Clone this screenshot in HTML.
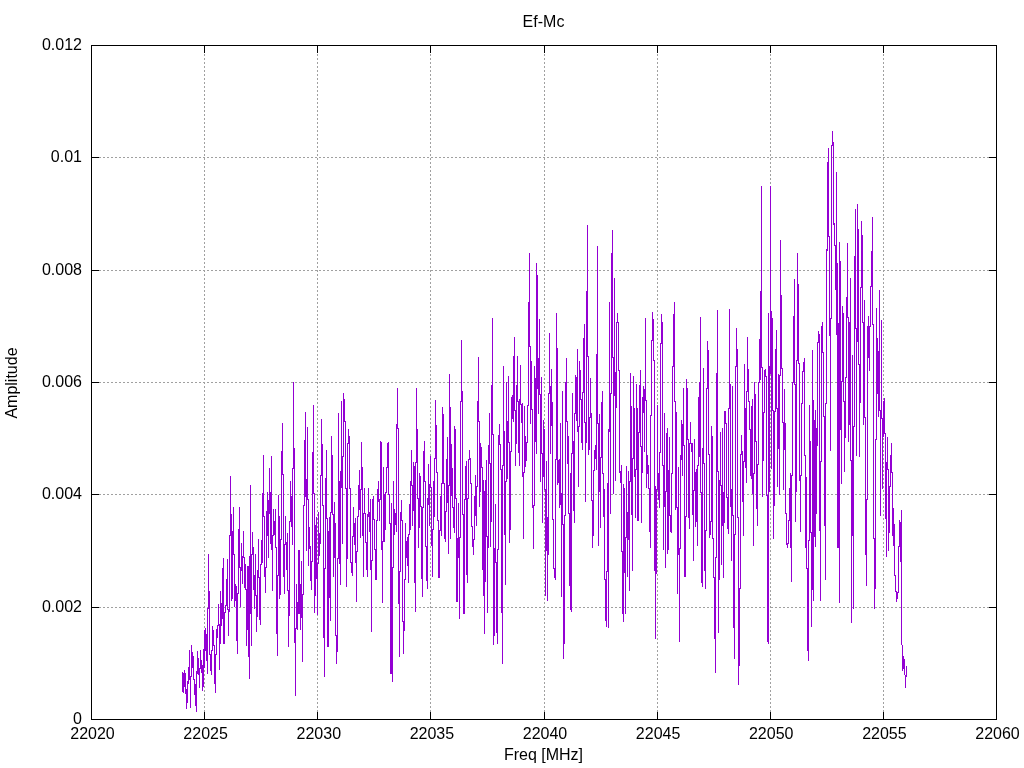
<!DOCTYPE html>
<html><head><meta charset="utf-8"><title>Ef-Mc</title>
<style>
html,body{margin:0;padding:0;background:#fff;}
body{width:1024px;height:768px;overflow:hidden;font-family:"Liberation Sans",sans-serif;}
svg{display:block;will-change:transform;}
text{font-family:"Liberation Sans",sans-serif;font-size:16px;fill:#000;}
</style></head><body>
<svg width="1024" height="768" viewBox="0 0 1024 768">
<rect x="0" y="0" width="1024" height="768" fill="#ffffff"/>

<g stroke="#a0a0a0" stroke-width="1" stroke-dasharray="2,2" fill="none">
<path d="M204.5 720V46"/>
<path d="M317.5 720V46"/>
<path d="M430.5 720V46"/>
<path d="M544.5 720V46"/>
<path d="M657.5 720V46"/>
<path d="M770.5 720V46"/>
<path d="M883.5 720V46"/>
<path d="M91 607.5H996"/>
<path d="M91 494.5H996"/>
<path d="M91 382.5H996"/>
<path d="M91 270.5H996"/>
<path d="M91 157.5H996"/>
</g>
<path d="M182.5 672V692M183.5 673V693M184.5 670V687M185.5 673V694M186.5 689V709M187.5 681V703M188.5 667V684M189.5 650V680M190.5 676V708M191.5 645V677M192.5 652V668M193.5 656V680M194.5 679V695M195.5 684V706M196.5 671V712M197.5 651V674M198.5 658V675M199.5 668V688M200.5 650V669M201.5 660V673M202.5 665V691M203.5 649V687M204.5 630V668M205.5 628V651M206.5 634V661M207.5 608V674M208.5 554V609M209.5 591V655M210.5 654V671M211.5 650V675M212.5 626V651M213.5 630V646M214.5 645V684M215.5 654V693M216.5 629V655M217.5 625V638M218.5 604V626M219.5 624V670M220.5 591V644M221.5 603V626M222.5 568V619M223.5 558V644M224.5 612V644M225.5 605V613M226.5 579V606M227.5 559V610M228.5 609V636M229.5 535V612M230.5 476V536M231.5 514V601M232.5 531V599M233.5 507V555M234.5 554V607M235.5 584V601M236.5 586V641M237.5 593V654M238.5 529V594M239.5 507V568M240.5 567V607M241.5 543V571M242.5 556V584M243.5 531V558M244.5 557V588M245.5 564V590M246.5 589V646M247.5 566V630M248.5 566V657M249.5 556V679M250.5 485V614M251.5 554V646M252.5 532V555M253.5 547V590M254.5 575V609M255.5 554V596M256.5 595V632M257.5 570V617M258.5 539V578M259.5 577V620M260.5 564V625M261.5 540V565M262.5 493V563M263.5 455V517M264.5 516V577M265.5 567V593M266.5 511V568M267.5 492V536M268.5 500V558M269.5 468V514M270.5 492V544M271.5 456V550M272.5 535V591M273.5 509V536M274.5 521V535M275.5 509V548M276.5 547V634M277.5 575V656M278.5 495V576M279.5 516V599M280.5 539V595M281.5 451V540M282.5 423V475M283.5 474V577M284.5 544V594M285.5 516V545M286.5 542V570M287.5 533V591M288.5 590V647M289.5 521V616M290.5 481V522M291.5 496V527M292.5 468V545M293.5 382V469M294.5 448V643M295.5 628V696M296.5 584V629M297.5 602V630M298.5 550V614M299.5 550V614M300.5 584V630M301.5 561V618M302.5 594V662M303.5 505V595M304.5 440V506M305.5 412V497M306.5 479V551M307.5 427V500M308.5 499V566M309.5 527V549M310.5 546V581M311.5 561V590M312.5 452V562M313.5 405V494M314.5 493V613M315.5 525V596M316.5 517V579M317.5 563V615M318.5 512V564M319.5 533V556M320.5 475V544M321.5 419V476M322.5 444V506M323.5 505V638M324.5 568V677M325.5 478V569M326.5 450V519M327.5 518V647M328.5 531V647M329.5 517V598M330.5 512V621M331.5 436V513M332.5 455V515M333.5 514V577M334.5 502V558M335.5 523V636M336.5 635V664M337.5 558V652M338.5 413V559M339.5 481V564M340.5 471V585M341.5 401V488M342.5 456V544M343.5 393V457M344.5 399V422M345.5 421V489M346.5 488V587M347.5 443V559M348.5 429V444M349.5 436V489M350.5 488V563M351.5 562V573M352.5 536V576M353.5 507V537M354.5 523V545M355.5 518V563M356.5 551V602M357.5 516V552M358.5 485V517M359.5 470V510M360.5 489V538M361.5 442V490M362.5 467V536M363.5 513V577M364.5 488V514M365.5 513V543M366.5 542V570M367.5 514V577M368.5 488V517M369.5 512V532M370.5 499V570M371.5 560V632M372.5 499V561M373.5 496V520M374.5 519V550M375.5 549V580M376.5 520V580M377.5 489V521M378.5 481V502M379.5 499V521M380.5 441V500M381.5 442V550M382.5 541V603M383.5 467V542M384.5 494V542M385.5 492V530M386.5 467V493M387.5 443V468M388.5 442V495M389.5 494V524M390.5 523V674M391.5 503V674M392.5 567V682M393.5 481V568M394.5 509V535M395.5 513V525M396.5 424V532M397.5 388V429M398.5 428V604M399.5 571V657M400.5 512V572M401.5 500V521M402.5 520V622M403.5 621V654M404.5 579V631M405.5 523V580M406.5 541V558M407.5 537V566M408.5 534V583M409.5 504V535M410.5 481V530M411.5 450V486M412.5 485V526M413.5 462V511M414.5 466V583M415.5 462V612M416.5 388V463M417.5 429V499M418.5 498V548M419.5 473V528M420.5 476V507M421.5 506V579M422.5 507V597M423.5 451V508M424.5 441V482M425.5 481V547M426.5 546V581M427.5 498V589M428.5 464V505M429.5 484V526M430.5 456V488M431.5 487V546M432.5 529V577M433.5 481V530M434.5 458V517M435.5 400V459M436.5 425V473M437.5 472V521M438.5 520V578M439.5 530V578M440.5 496V531M441.5 483V536M442.5 407V484M443.5 414V484M444.5 483V539M445.5 511V542M446.5 459V512M447.5 437V503M448.5 485V554M449.5 374V486M450.5 407V539M451.5 444V496M452.5 468V508M453.5 507V528M454.5 426V533M455.5 429V499M456.5 498V602M457.5 538V602M458.5 503V558M459.5 537V619M460.5 401V538M461.5 340V402M462.5 391V515M463.5 514V614M464.5 499V614M465.5 466V500M466.5 461V575M467.5 498V583M468.5 459V499M469.5 450V460M470.5 458V484M471.5 483V527M472.5 526V547M473.5 539V555M474.5 496V540M475.5 475V516M476.5 486V526M477.5 401V487M478.5 357V422M479.5 421V507M480.5 443V492M481.5 447V468M482.5 467V570M483.5 480V596M484.5 491V634M485.5 480V582M486.5 460V537M487.5 536V613M488.5 445V548M489.5 413V464M490.5 463V547M491.5 385V522M492.5 318V435M493.5 434V645M494.5 548V636M495.5 504V563M496.5 562V633M497.5 549V644M498.5 435V550M499.5 424V445M500.5 444V470M501.5 469V613M502.5 465V664M503.5 366V466M504.5 431V535M505.5 481V585M506.5 382V482M507.5 421V479M508.5 376V443M509.5 442V543M510.5 451V530M511.5 397V452M512.5 395V419M513.5 356V422M514.5 337V411M515.5 410V466M516.5 385V444M517.5 356V402M518.5 401V453M519.5 399V466M520.5 365V405M521.5 404V423M522.5 403V477M523.5 472V539M524.5 406V473M525.5 436V467M526.5 442V461M527.5 405V443M528.5 302V406M529.5 253V347M530.5 346V424M531.5 361V410M532.5 409V508M533.5 505V549M534.5 366V506M535.5 378V442M536.5 263V454M537.5 275V389M538.5 358V414M539.5 319V395M540.5 394V482M541.5 377V454M542.5 453V523M543.5 420V477M544.5 429V490M545.5 489V596M546.5 461V551M547.5 517V601M548.5 393V555M549.5 333V394M550.5 386V454M551.5 369V426M552.5 402V520M553.5 519V569M554.5 568V578M555.5 459V580M556.5 313V460M557.5 348V485M558.5 460V483M559.5 459V508M560.5 423V505M561.5 493V597M562.5 391V525M563.5 524V659M564.5 515V644M565.5 382V516M566.5 358V422M567.5 421V464M568.5 436V514M569.5 513V586M570.5 473V610M571.5 453V612M572.5 393V454M573.5 441V511M574.5 413V523M575.5 375V414M576.5 377V421M577.5 349V432M578.5 426V487M579.5 361V427M580.5 370V400M581.5 399V443M582.5 392V450M583.5 338V393M584.5 324V423M585.5 422V502M586.5 291V443M587.5 225V357M588.5 356V455M589.5 417V450M590.5 378V418M591.5 413V501M592.5 500V548M593.5 470V536M594.5 450V471M595.5 445V459M596.5 354V470M597.5 246V424M598.5 423V546M599.5 414V492M600.5 457V528M601.5 402V458M602.5 391V474M603.5 473V517M604.5 489V580M605.5 579V621M606.5 571V627M607.5 483V572M608.5 429V628M609.5 302V432M610.5 393V514M611.5 253V394M612.5 230V358M613.5 357V494M614.5 278V396M615.5 372V481M616.5 322V408M617.5 313V323M618.5 322V371M619.5 370V473M620.5 471V483M621.5 465V552M622.5 551V614M623.5 484V622M624.5 488V573M625.5 537V614M626.5 466V538M627.5 512V577M628.5 471V540M629.5 481V591M630.5 373V482M631.5 406V515M632.5 458V571M633.5 376V459M634.5 408V477M635.5 469V518M636.5 384V470M637.5 408V521M638.5 432V521M639.5 385V433M640.5 370V447M641.5 446V523M642.5 397V473M643.5 386V413M644.5 389V452M645.5 318V401M646.5 400V488M647.5 455V474M648.5 465V489M649.5 488V532M650.5 415V548M651.5 340V416M652.5 312V341M653.5 319V361M654.5 360V571M655.5 486V639M656.5 489V574M657.5 405V490M658.5 473V500M659.5 452V508M660.5 343V453M661.5 314V344M662.5 322V466M663.5 465V550M664.5 413V507M665.5 491V568M666.5 433V492M667.5 428V554M668.5 470V550M669.5 437V516M670.5 515V532M671.5 473V533M672.5 366V474M673.5 314V367M674.5 302V402M675.5 401V510M676.5 412V508M677.5 507V594M678.5 467V555M679.5 548V642M680.5 455V549M681.5 420V460M682.5 424V476M683.5 388V446M684.5 445V577M685.5 516V577M686.5 379V517M687.5 388V440M688.5 439V518M689.5 443V529M690.5 422V444M691.5 443V452M692.5 443V515M693.5 490V561M694.5 439V491M695.5 472V527M696.5 469V522M697.5 465V546M698.5 397V466M699.5 382V457M700.5 317V493M701.5 492V583M702.5 448V587M703.5 368V464M704.5 463V571M705.5 530V589M706.5 388V531M707.5 341V389M708.5 350V455M709.5 454V538M710.5 521V535M711.5 426V522M712.5 436V539M713.5 538V578M714.5 577V639M715.5 557V673M716.5 373V558M717.5 310V472M718.5 471V633M719.5 480V580M720.5 432V486M721.5 485V565M722.5 428V526M723.5 492V578M724.5 411V523M725.5 411V424M726.5 423V498M727.5 497V529M728.5 408V534M729.5 309V409M730.5 384V507M731.5 489V561M732.5 386V516M733.5 515V628M734.5 534V659M735.5 366V535M736.5 328V367M737.5 349V518M738.5 517V685M739.5 588V666M740.5 454V589M741.5 435V455M742.5 451V502M743.5 461V536M744.5 364V462M745.5 408V468M746.5 391V483M747.5 337V392M748.5 369V402M749.5 401V430M750.5 429V476M751.5 406V479M752.5 399V494M753.5 473V546M754.5 382V474M755.5 394V442M756.5 441V509M757.5 464V526M758.5 382V465M759.5 339V383M760.5 291V380M761.5 186V368M762.5 367V497M763.5 412V461M764.5 370V413M765.5 369V377M766.5 376V496M767.5 495V642M768.5 313V644M769.5 366V492M770.5 186V374M771.5 311V469M772.5 318V411M773.5 410V539M774.5 411V506M775.5 349V412M776.5 330V409M777.5 408V487M778.5 374V449M779.5 375V495M780.5 240V376M781.5 295V369M782.5 368V423M783.5 422V490M784.5 389V450M785.5 423V514M786.5 513V545M787.5 543V548M788.5 520V544M789.5 488V521M790.5 473V548M791.5 475V582M792.5 382V476M793.5 316V383M794.5 279V385M795.5 384V522M796.5 360V492M797.5 253V361M798.5 284V364M799.5 363V481M800.5 475V532M801.5 403V476M802.5 371V404M803.5 362V372M804.5 358V456M805.5 455V548M806.5 477V569M807.5 568V651M808.5 540V661M809.5 405V541M810.5 441V533M811.5 532V627M812.5 350V590M813.5 400V601M814.5 420V537M815.5 410V547M816.5 428V514M817.5 342V446M818.5 331V343M819.5 334V531M820.5 461V601M821.5 326V462M822.5 322V353M823.5 352V417M824.5 416V526M825.5 403V580M826.5 249V404M827.5 162V251M828.5 148V237M829.5 236V336M830.5 318V451M831.5 145V319M832.5 131V146M833.5 142V225M834.5 223V246M835.5 245V290M836.5 172V335M837.5 263V548M838.5 323V548M839.5 242V603M840.5 261V430M841.5 381V484M842.5 306V382M843.5 313V402M844.5 401V472M845.5 377V438M846.5 297V378M847.5 243V318M848.5 317V442M849.5 322V425M850.5 278V461M851.5 460V623M852.5 355V536M853.5 426V609M854.5 256V427M855.5 209V329M856.5 328V456M857.5 204V342M858.5 229V365M859.5 364V457M860.5 287V403M861.5 221V288M862.5 235V323M863.5 322V425M864.5 300V418M865.5 417V555M866.5 499V586M867.5 326V500M868.5 316V358M869.5 326V371M870.5 286V327M871.5 251V287M872.5 217V325M873.5 324V539M874.5 538V609M875.5 439V589M876.5 308V440M877.5 338V394M878.5 351V417M879.5 290V411M880.5 410V516M881.5 320V419M882.5 418V489M883.5 401V437M884.5 398V434M885.5 433V519M886.5 462V557M887.5 437V470M888.5 469V551M889.5 486V533M890.5 455V487M891.5 443V473M892.5 472V536M893.5 508V546M894.5 524V576M895.5 575V592M896.5 591V602M897.5 592V599M898.5 546V593M899.5 520V547M900.5 522V562M901.5 510V645M902.5 645V671M903.5 656V669M904.5 659V675M905.5 675V688M906.5 666V677" stroke="#9400d3" stroke-width="1" fill="none" shape-rendering="crispEdges"/>
<g stroke="#000" stroke-width="1" fill="none">
<path d="M91.5 719.5v-7.5M91.5 45.5v7.5"/>
<path d="M204.5 719.5v-7.5M204.5 45.5v7.5"/>
<path d="M317.5 719.5v-7.5M317.5 45.5v7.5"/>
<path d="M430.5 719.5v-7.5M430.5 45.5v7.5"/>
<path d="M544.5 719.5v-7.5M544.5 45.5v7.5"/>
<path d="M657.5 719.5v-7.5M657.5 45.5v7.5"/>
<path d="M770.5 719.5v-7.5M770.5 45.5v7.5"/>
<path d="M883.5 719.5v-7.5M883.5 45.5v7.5"/>
<path d="M996.5 719.5v-7.5M996.5 45.5v7.5"/>
<path d="M91.5 719.5h7.5M996.5 719.5h-7.5"/>
<path d="M91.5 607.5h7.5M996.5 607.5h-7.5"/>
<path d="M91.5 494.5h7.5M996.5 494.5h-7.5"/>
<path d="M91.5 382.5h7.5M996.5 382.5h-7.5"/>
<path d="M91.5 270.5h7.5M996.5 270.5h-7.5"/>
<path d="M91.5 157.5h7.5M996.5 157.5h-7.5"/>
<path d="M91.5 45.5h7.5M996.5 45.5h-7.5"/>
<rect x="91.5" y="45.5" width="905.0" height="674.0"/>
</g>
<text x="82" y="724.0" text-anchor="end">0</text>
<text x="82" y="611.7" text-anchor="end">0.002</text>
<text x="82" y="499.3" text-anchor="end">0.004</text>
<text x="82" y="387.0" text-anchor="end">0.006</text>
<text x="82" y="274.7" text-anchor="end">0.008</text>
<text x="82" y="162.3" text-anchor="end">0.01</text>
<text x="82" y="50.0" text-anchor="end">0.012</text>
<text x="92.5" y="738.5" text-anchor="middle">22020</text>
<text x="205.6" y="738.5" text-anchor="middle">22025</text>
<text x="318.8" y="738.5" text-anchor="middle">22030</text>
<text x="431.9" y="738.5" text-anchor="middle">22035</text>
<text x="545.0" y="738.5" text-anchor="middle">22040</text>
<text x="658.1" y="738.5" text-anchor="middle">22045</text>
<text x="771.2" y="738.5" text-anchor="middle">22050</text>
<text x="884.4" y="738.5" text-anchor="middle">22055</text>
<text x="997.5" y="738.5" text-anchor="middle">22060</text>
<text x="543.5" y="27" text-anchor="middle">Ef-Mc</text>
<text x="543.5" y="760" text-anchor="middle">Freq [MHz]</text>
<text transform="translate(17,383) rotate(-90)" text-anchor="middle">Amplitude</text>
</svg></body></html>
